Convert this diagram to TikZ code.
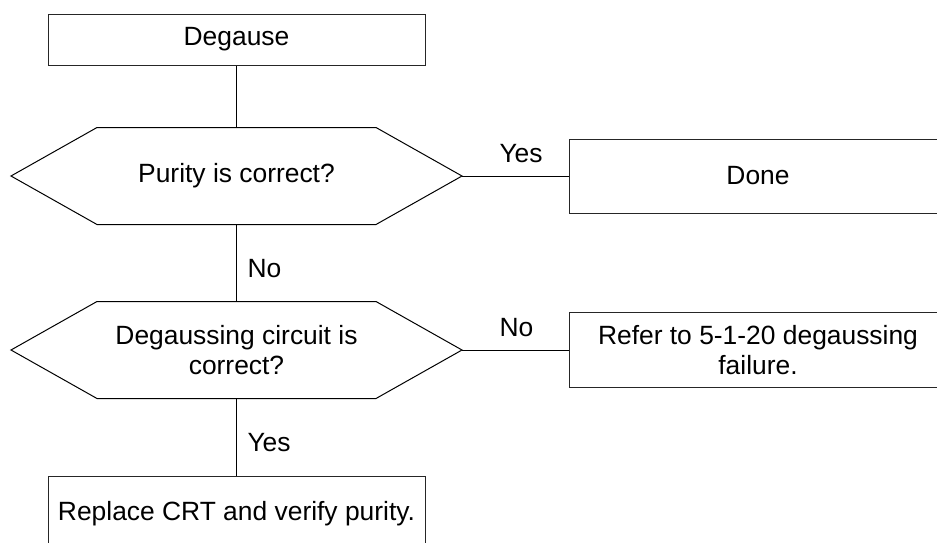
\documentclass[tikz,border=0pt]{standalone}
\usepackage{fontspec}
\setmainfont{Liberation Sans}
\usetikzlibrary{positioning}

% six-sided outline round a decision node
\newcommand{\hexframe}[1]{%
  \draw[line width=1pt] (#1.west) -- ([xshift=86pt]#1.north west) -- ([xshift=-86pt]#1.north east)
    -- (#1.east) -- ([xshift=-86pt]#1.south east) -- ([xshift=86pt]#1.south west) -- cycle;}

\begin{document}
\begin{tikzpicture}[
    x=1pt, y=1pt,
    every node/.style={font=\fontsize{26.4}{30}\selectfont},
    block/.style={rectangle, minimum width=377pt, align=center, draw=black!85, line width=1pt, inner sep=0pt},
    decision/.style={rectangle, minimum width=451pt, minimum height=97pt, align=center, inner sep=0pt, outer sep=0pt},
    link/.style={line width=1pt},
    sidelabel/.style={anchor=south west, inner sep=0pt, xshift=-16.5pt, yshift=12.5pt},
    downlabel/.style={anchor=west, inner sep=0pt, xshift=10.5pt, yshift=-5.5pt}
]
\useasboundingbox (0,0) rectangle (937,-542);
\clip (0,0) rectangle (937,-542);

\node[block, minimum height=51pt] (degause) at (236.5,-39.5) {Degause};

\node[decision, below=62pt of degause] (purity) {Purity is correct?};
\hexframe{purity}

\node[block, minimum height=74pt, right=107pt of purity] (done) {Done};

\node[decision, below=77pt of purity] (circuit) {Degaussing circuit is\\correct?};
\hexframe{circuit}

\node[block, minimum height=75pt, right=107pt of circuit] (refer) {Refer to 5-1-20 degaussing\\failure.};

\node[block, minimum height=76pt, below=77pt of circuit] (replace) {Replace CRT and verify purity.};

\draw[link] (degause) -- (purity);
\draw[link] (purity) -- node[sidelabel] {Yes} (done);
\draw[link] (purity) -- node[downlabel] {No} (circuit);
\draw[link] (circuit) -- node[sidelabel] {No} (refer);
\draw[link] (circuit) -- node[downlabel] {Yes} (replace);

\end{tikzpicture}
\end{document}
